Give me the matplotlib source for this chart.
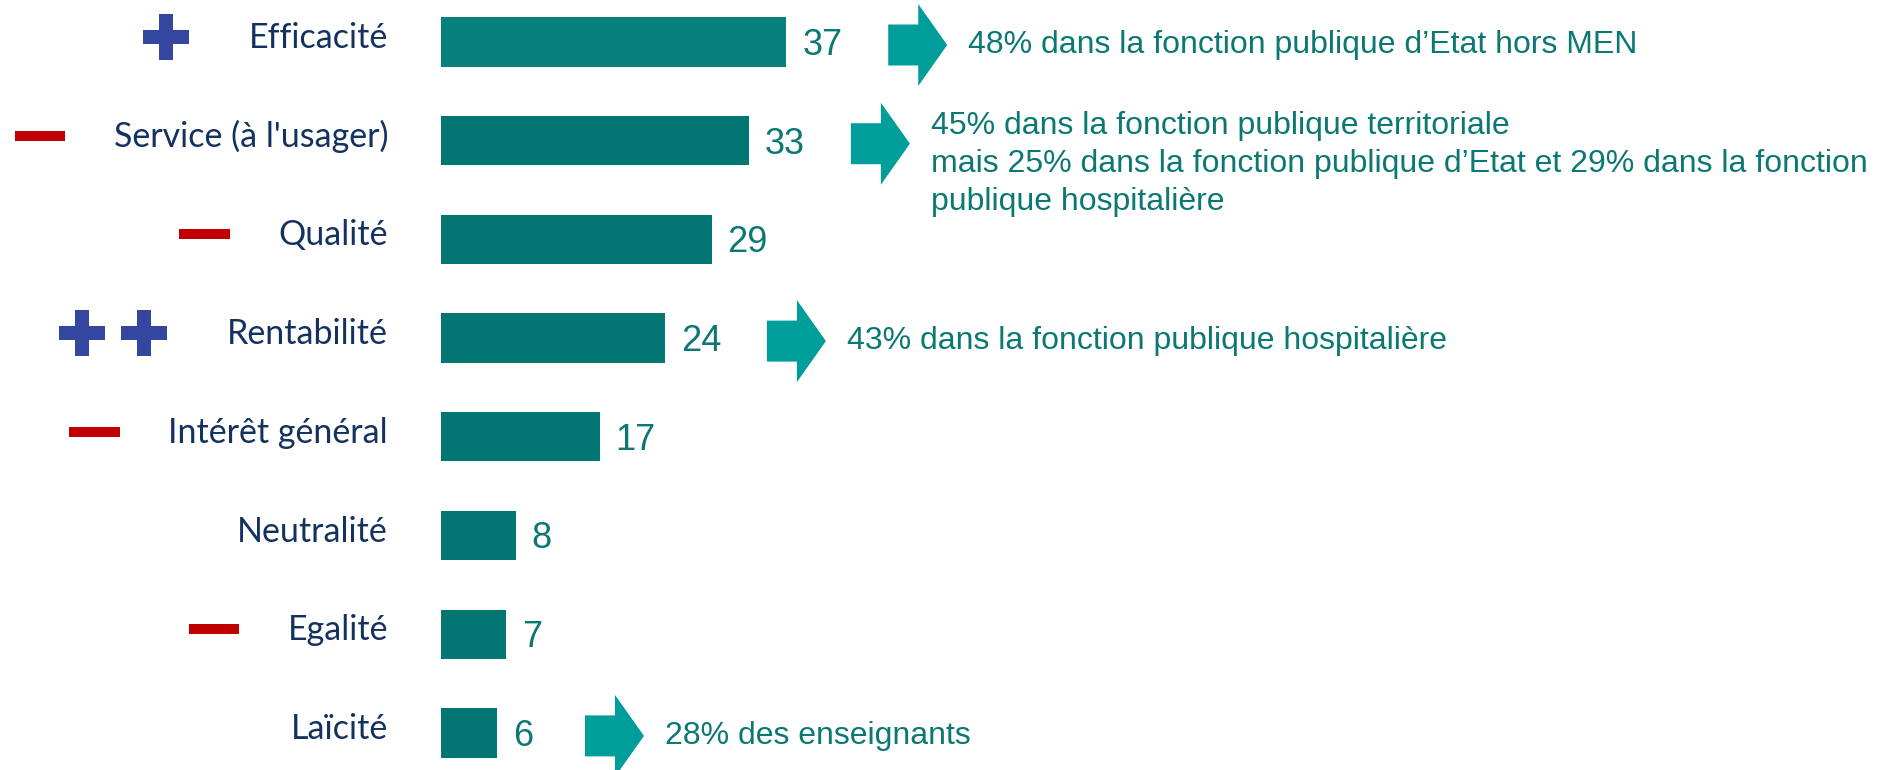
import matplotlib
matplotlib.use("Agg")
import matplotlib.pyplot as plt
from matplotlib.patches import Rectangle, Polygon

# data (percent)
categories = ["Efficacité", "Service (à l'usager)", "Qualité", "Rentabilité",
              "Intérêt général", "Neutralité", "Egalité", "Laïcité"]
values = [37, 33, 29, 24, 17, 8, 7, 6]
signs = ["+", "-", "-", "++", "-", "", "-", ""]
notes = [
    "48% dans la fonction publique d’Etat hors MEN",
    "45% dans la fonction publique territoriale\n"
    "mais 25% dans la fonction publique d’Etat et 29% dans la fonction\n"
    "publique hospitalière",
    "",
    "43% dans la fonction publique hospitalière",
    "",
    "",
    "",
    "28% des enseignants",
]

BAR_TOP = "#07807E"
BAR = "#027672"
NAVY = "#14325F"
TEAL_TXT = "#0B7873"
ARROW = "#009E9A"
RED = "#C00000"
BLUE = "#3346A0"

W, H = 1882, 770
X0 = 441      # pixel where the bars start
PX = 9.33     # pixels per percentage point
Y0 = 42       # pixel centre of the first bar
ROW = 98.7    # pixels between two bars


def dx(p):
    return p / PX


def dy(p):
    return p / ROW


fig = plt.figure(figsize=(W / 100, H / 100), dpi=100)
ax = fig.add_axes([0, 0, 1, 1])
ax.set_xlim(-X0 / PX, (W - X0) / PX)
ax.set_ylim((H - Y0) / ROW, -Y0 / ROW)
ax.axis("off")

rows = list(range(len(categories)))
colors = [BAR_TOP] + [BAR] * (len(categories) - 1)
ax.barh(rows, values, height=0.5, color=colors)

labels = []
for i, (cat, v) in enumerate(zip(categories, values)):
    t = ax.text(dx(-53), i + dy(6), cat, ha="right", va="baseline",
                fontsize=24.5, color=NAVY, family="Lato")
    labels.append(t)
    ax.text(v + dx(16), i + dy(13), str(v), ha="left", va="baseline",
            fontsize=26, color=TEAL_TXT, family="Liberation Sans")

# block arrows + comments
for i, (v, note) in enumerate(zip(values, notes)):
    if not note:
        continue
    left = v + dx(74 + 14 * len(str(v)))
    cy = i + dy(3)
    body, head, bh, hh = dx(30), dx(29), dy(20.5), dy(41)
    pts = [(left, cy - bh), (left + body, cy - bh), (left + body, cy - hh),
           (left + body + head, cy), (left + body, cy + hh),
           (left + body, cy + bh), (left, cy + bh)]
    ax.add_patch(Polygon(pts, closed=True, color=ARROW, lw=0))
    nlines = note.count("\n") + 1
    ax.text(left + body + head + dx(21), cy + dy(10 * (nlines - 1)), note,
            ha="left", va="center", fontsize=23, color=TEAL_TXT,
            family="Liberation Sans", linespacing=1.35)

# + / - markers left of the labels
fig.canvas.draw()
inv = ax.transData.inverted()
for i, (sign, t) in enumerate(zip(signs, labels)):
    if not sign:
        continue
    bb = t.get_window_extent()
    lx = inv.transform((bb.x0, 0))[0]
    cy = i - dy(5)
    if sign == "-":
        right = lx - dx(48)
        ax.add_patch(Rectangle((right - dx(51), cy - dy(5)), dx(51), dy(10),
                               color=RED, lw=0))
    else:
        right = lx - dx(60)
        for k in range(len(sign)):
            cx = right - dx(23) - k * dx(62)
            ax.add_patch(Rectangle((cx - dx(23), cy - dy(7)), dx(46), dy(14),
                                   color=BLUE, lw=0))
            ax.add_patch(Rectangle((cx - dx(7), cy - dy(23)), dx(14), dy(46),
                                   color=BLUE, lw=0))

fig.savefig("out.png", dpi=100)
